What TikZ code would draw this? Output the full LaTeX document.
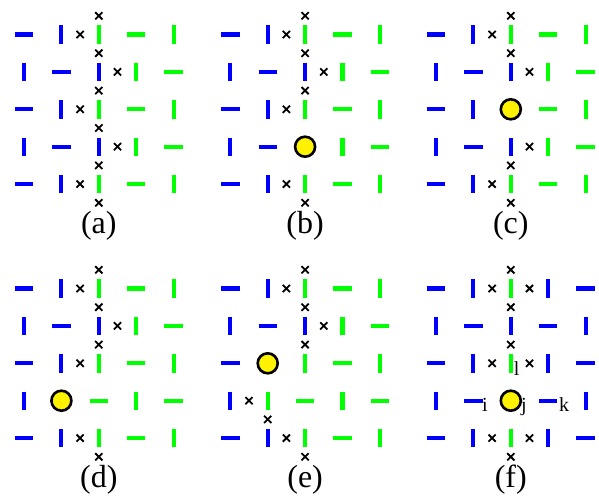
\documentclass[tikz,border=0pt]{standalone}
\usepackage{fontspec}
\setmainfont{Liberation Serif}
\definecolor{bb}{RGB}{0,0,255}
\definecolor{gg}{RGB}{0,255,0}
\tikzset{
  barline/.style={line width=4.1pt},
  xline/.style={line width=1.8pt, draw=black},
  ballstyle/.style={line width=2.6pt, draw=black, fill=yellow},
  panellabel/.style={anchor=base, inner sep=0pt, font=\fontsize{32}{38}\selectfont},
  sitelabel/.style={anchor=base, inner sep=0pt, font=\fontsize{20}{24}\selectfont},
}
\newcommand\gs{37.4}
\newcommand\barH[3]{\draw[barline,draw=#3] ({(#1-1)*\gs-9.2},{(#2-1)*\gs}) -- ({(#1-1)*\gs+9.2},{(#2-1)*\gs});}
\newcommand\barV[3]{\draw[barline,draw=#3] ({(#1-1)*\gs},{(#2-1)*\gs-9.2}) -- ({(#1-1)*\gs},{(#2-1)*\gs+9.2});}
\newcommand\crossat[2]{\draw[xline] ({(#1-1)*\gs-3.6},{(#2-1)*\gs-3.6}) -- ({(#1-1)*\gs+3.6},{(#2-1)*\gs+3.6}) ({(#1-1)*\gs-3.6},{(#2-1)*\gs+3.6}) -- ({(#1-1)*\gs+3.6},{(#2-1)*\gs-3.6});}
\newcommand\ballat[2]{\path[ballstyle] ({(#1-1)*\gs},{(#2-1)*\gs}) circle (10);}
\newcommand\baseodd[1]{\barH{1}{#1}{bb}\barV{2}{#1}{bb}\barV{3}{#1}{gg}\barH{4}{#1}{gg}\barV{5}{#1}{gg}}
\newcommand\baseeven[1]{\barV{1}{#1}{bb}\barH{2}{#1}{bb}\barV{3}{#1}{bb}\barV{4}{#1}{gg}\barH{5}{#1}{gg}}
\begin{document}
\begin{tikzpicture}[x=1pt,y=-1pt]
\useasboundingbox (0,0) rectangle (599,495);
% (a)
\begin{scope}[shift={(24,34.5)}]
  \baseodd{1}\baseeven{2}\baseodd{3}\baseeven{4}\baseodd{5}
  \foreach \c/\r in {3/0.5,2.5/1,3/1.5,3.5/2,3/2.5,2.5/3,3/3.5,3.5/4,3/4.5,2.5/5,3/5.5}{\crossat{\c}{\r}}
  \node[panellabel] (la) at ({2*\gs},198.5) {(a)};
\end{scope}
% (b)
\begin{scope}[shift={(230.3,34.5)}]
  \baseodd{1}\baseeven{2}\baseodd{3}\baseodd{5}
  \barV{1}{4}{bb}\barH{2}{4}{bb}\barV{4}{4}{gg}\barH{5}{4}{gg}
  \ballat{3}{4}
  \foreach \c/\r in {3/0.5,2.5/1,3/1.5,3.5/2,3/2.5,2.5/3,2.5/5,3/5.5}{\crossat{\c}{\r}}
  \node[panellabel] (lb) at ({2*\gs},198.5) {(b)};
\end{scope}
% (c)
\begin{scope}[shift={(436,34.5)}]
  \baseodd{1}\baseeven{2}\baseeven{4}\baseodd{5}
  \barH{1}{3}{bb}\barV{2}{3}{bb}\barH{4}{3}{gg}\barV{5}{3}{gg}
  \ballat{3}{3}
  \foreach \c/\r in {3/0.5,2.5/1,3/1.5,3.5/2,3.5/4,3/4.5,2.5/5,3/5.5}{\crossat{\c}{\r}}
  \node[panellabel] (lc) at ({2*\gs},198.5) {(c)};
\end{scope}
% (d)
\begin{scope}[shift={(24,288.5)}]
  \baseodd{1}\baseeven{2}\baseodd{3}\baseodd{5}
  \barV{1}{4}{bb}\barH{3}{4}{gg}\barV{4}{4}{gg}\barH{5}{4}{gg}
  \ballat{2}{4}
  \foreach \c/\r in {3/0.5,2.5/1,3/1.5,3.5/2,3/2.5,2.5/3,2.5/5,3/5.5}{\crossat{\c}{\r}}
  \node[panellabel] (ld) at ({2*\gs},198.5) {(d)};
\end{scope}
% (e)
\begin{scope}[shift={(230.3,288.5)}]
  \baseodd{1}\baseeven{2}\baseodd{5}
  \barH{1}{3}{bb}\barV{3}{3}{gg}\barH{4}{3}{gg}\barV{5}{3}{gg}
  \barV{1}{4}{bb}\barV{2}{4}{gg}\barH{3}{4}{gg}\barV{4}{4}{gg}\barH{5}{4}{gg}
  \ballat{2}{3}
  \foreach \c/\r in {3/0.5,2.5/1,3/1.5,3.5/2,3/2.5,1.5/4,2/4.5,2.5/5,3/5.5}{\crossat{\c}{\r}}
  \node[panellabel] (le) at ({2*\gs},198.5) {(e)};
\end{scope}
% (f)
\begin{scope}[shift={(436,288.5)}]
  \foreach \r in {1,3,5}{\barH{1}{\r}{bb}\barV{2}{\r}{bb}\barV{3}{\r}{gg}\barV{4}{\r}{bb}\barH{5}{\r}{bb}}
  \barV{1}{2}{bb}\barH{2}{2}{bb}\barV{3}{2}{bb}\barH{4}{2}{bb}\barV{5}{2}{bb}
  \barV{1}{4}{bb}\barH{2}{4}{bb}\barH{4}{4}{bb}\barV{5}{4}{bb}
  \ballat{3}{4}
  \foreach \c/\r in {3/0.5,2.5/1,3.5/1,3/1.5,3/2.5,2.5/3,3.5/3,2.5/5,3.5/5,3/5.5}{\crossat{\c}{\r}}
  \node[sitelabel] (sl) at (80.7,86.5) {l};
  \node[sitelabel] (si) at (49,123.2) {i};
  \node[sitelabel] (sj) at (88,123.2) {j};
  \node[sitelabel] (sk) at (128,123.2) {k};
  \node[panellabel] (lf) at ({2*\gs},198.5) {(f)};
\end{scope}
\end{tikzpicture}
\end{document}
